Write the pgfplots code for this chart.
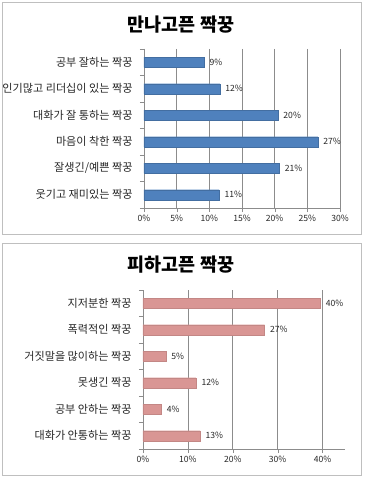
\documentclass[border=0pt]{standalone}
\usepackage{pgfplots}
\pgfplotsset{compat=1.18}
\usepackage{fontspec}
\setmainfont{Noto Sans CJK KR}
\definecolor{barblue}{HTML}{4F81BD}
\definecolor{barpink}{HTML}{D99694}
\definecolor{gridgray}{HTML}{8C8C8C}
\definecolor{framegray}{HTML}{BFBFBF}
\pgfplotsset{
  panel/.style={
    scale only axis,
    anchor=south west,
    xbar, y dir=reverse,
    axis lines*=left,
    axis line style={gridgray, -},
    xmajorgrids, grid style={gridgray, line width=0.6pt},
    ymin=-0.5, ymax=5.5,
    ytick={0,...,5},
    major y tick style={draw=none},
    minor ytick={-0.5,0.5,...,5.5},
    minor y tick style={gridgray},
    minor tick length=4pt,
    major x tick style={gridgray},
    major tick length=4pt,
    tick align=outside,
    bar width=0.38,
    yticklabel style={font=\fontsize{11.1}{12}\selectfont, text=black!85, xshift=-4pt},
    xticklabel style={font=\fontsize{8.6}{10}\selectfont, text=black!85},
    nodes near coords,
    point meta=explicit symbolic,
    every node near coord/.style={font=\fontsize{8.6}{10}\selectfont, text=black!85, anchor=west, xshift=2pt},
  }
}
\begin{document}
\begin{tikzpicture}[x=1pt,y=1pt]
\path[use as bounding box] (0,0) rectangle (366,480);
\draw[framegray, line width=0.8pt] (2,246) rectangle (361,478);
\draw[framegray, line width=0.8pt] (2,5) rectangle (361,237);
\node[font=\fontsize{18.5}{20}\selectfont\bfseries] at (181,455) {만나고픈 짝꿍};
\node[font=\fontsize{18.5}{20}\selectfont\bfseries] at (181,215) {피하고픈 짝꿍};
\begin{axis}[panel,
  at={(144pt,272pt)}, width=196pt, height=159pt,
  xmin=0, xmax=30, xtick={0,5,...,30},
  xticklabels={0\%,5\%,10\%,15\%,20\%,25\%,30\%},
  yticklabels={공부 잘하는 짝꿍, 인기많고 리더십이 있는 짝꿍, 대화가 잘 통하는 짝꿍, 마음이 착한 짝꿍, 잘생긴/예쁜 짝꿍, 웃기고 재미있는 짝꿍},
]
\addplot[fill=barblue, draw=barblue!85!black] table[x=v, y=c, meta=l] {
c v l
0 9.2 9\%
1 11.6 12\%
2 20.5 20\%
3 26.6 27\%
4 20.7 21\%
5 11.5 11\%
};
\end{axis}
\begin{axis}[panel,
  at={(143pt,31pt)}, width=202pt, height=159pt,
  xmin=0, xmax=45, xtick={0,10,...,40},
  xticklabels={0\%,10\%,20\%,30\%,40\%},
  yticklabels={지저분한 짝꿍, 폭력적인 짝꿍, 거짓말을 많이하는 짝꿍, 못생긴 짝꿍, 공부 안하는 짝꿍, 대화가 안통하는 짝꿍},
]
\addplot[fill=barpink, draw=barpink!90!black] table[x=v, y=c, meta=l] {
c v l
0 39.5 40\%
1 27.1 27\%
2 5.1 5\%
3 11.8 12\%
4 4.1 4\%
5 12.7 13\%
};
\end{axis}
\end{tikzpicture}
\end{document}
